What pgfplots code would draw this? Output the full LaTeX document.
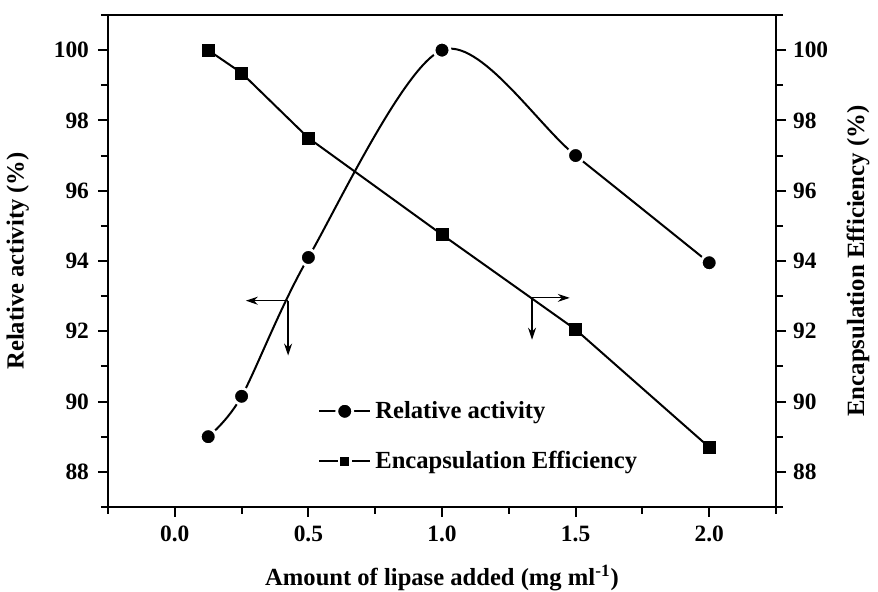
\documentclass[border=0pt]{standalone}
\usepackage{pgfplots}
\pgfplotsset{compat=1.18}
\usepackage{fontspec}
\setmainfont{Liberation Serif}
\usetikzlibrary{arrows.meta}
\begin{document}
\begin{tikzpicture}
\pgfplotsset{
  common/.style={
    scale only axis, width=334pt, height=246pt,
    xmin=-0.25, xmax=2.25, ymin=87, ymax=101,
    tick align=outside,
    /pgf/number format/assume math mode=true,
    tick label style={font=\fontsize{11.7}{14}\selectfont\bfseries},
    axis line style={line width=1.1pt},
    major tick length=5pt, minor tick length=3.5pt,
    every tick/.style={line width=1pt, black},
    ytick={88,90,...,100}, minor ytick={87,89,...,101},
  },
  ra/.style={black, line width=1pt, smooth, tension=0.5, mark=*, mark size=4pt,
    mark options={fill=black, draw=white, line width=1.4pt}},
  ee/.style={black, line width=1pt, mark=square*, mark size=3pt,
    mark options={fill=black, draw=black, line width=0.2pt}},
}
\begin{axis}[common, name=ax,
  xtick pos=bottom, ytick pos=left,
  xtick={0,0.5,...,2}, minor xtick={-0.25,0.25,...,2.25},
  xticklabel style={yshift=-1pt, /pgf/number format/.cd, fixed, fixed zerofill, precision=1},
  yticklabel style={xshift=-1pt},
  ylabel={Relative activity (\%)},
  ylabel style={at={(axis description cs:-0.135,0.5)}, anchor=center, font=\fontsize{12.3}{14}\selectfont\bfseries},
  xlabel={Amount of lipase added (mg ml\textsuperscript{-1})},
  xlabel style={at={(axis description cs:0.5,-0.144)}, anchor=center, font=\fontsize{12.3}{14}\selectfont\bfseries},
]
\addplot[ra] coordinates {(0.125,89.0) (0.25,90.15) (0.5,94.1) (1.0,100.0) (1.5,97.0) (2.0,93.95)};
\draw[-{Stealth[length=6pt,width=4pt]}, line width=0.6pt] (axis cs:0.424,92.87) -- (axis cs:0.266,92.87);
\draw[-{Stealth[length=6pt,width=4pt]}, line width=0.6pt] (axis cs:0.424,92.87) -- (axis cs:0.424,91.31);
\end{axis}
\begin{axis}[common,
  axis x line=none, axis y line*=right, ytick pos=right,
  ylabel={Encapsulation Efficiency (\%)},
  ylabel style={at={(axis description cs:1.123,0.5)}, anchor=center, rotate=0, font=\fontsize{12.4}{14}\selectfont\bfseries},
  legend style={draw=none, fill=none, at={(0.305,0.232)}, anchor=north west,
    font=\fontsize{12.3}{14}\selectfont\bfseries, row sep=11pt},
  legend cell align=left,
  legend image code/.code={\draw[mark repeat=2,mark phase=2] plot coordinates {(0cm,0cm) (0.45cm,0cm) (0.9cm,0cm)};},
]
\addlegendimage{ra, sharp plot}
\addlegendentry{Relative activity}
\addlegendimage{black, line width=1pt, mark=square*, mark size=2.8pt, mark options={fill=black, draw=white, line width=1.2pt}}
\addlegendentry{Encapsulation Efficiency}
\addplot[ee, forget plot] coordinates {(0.125,100.0) (0.25,99.35) (0.5,97.5) (1.0,94.75) (1.5,92.05) (2.0,88.7)};
\draw[-{Stealth[length=6pt,width=4pt]}, line width=0.6pt] (axis cs:1.337,92.95) -- (axis cs:1.478,92.95);
\draw[-{Stealth[length=6pt,width=4pt]}, line width=0.6pt] (axis cs:1.337,92.95) -- (axis cs:1.337,91.76);
\end{axis}
\pgfresetboundingbox
\useasboundingbox ([shift={(-54pt,-42.5pt)}]ax.south west) rectangle ([shift={(51pt,7.5pt)}]ax.north east);
\end{tikzpicture}
\end{document}
